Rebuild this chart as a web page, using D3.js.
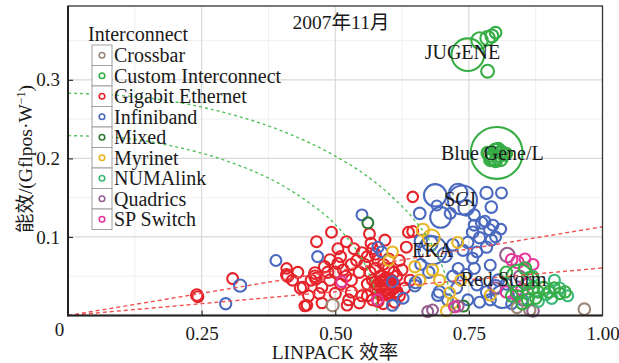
<!DOCTYPE html>
<html>
<head>
<meta charset="utf-8">
<script src="https://cdn.jsdelivr.net/npm/d3@7/dist/d3.min.js"></script>
<style>
  body { margin: 0; background: #fff; }
  text { font-family: "Liberation Serif", "Times New Roman", "Noto Sans CJK SC", serif; fill: #1a1a1a; }
</style>
</head>
<body>
<svg id="chart" width="619" height="363"></svg>
<script>
// each point: [LINPACK efficiency, Gflops per W, Rmax (TFlops)]
const crossbar = [[0.495, 0.013, 12], [0.966, 0.008, 10], [0.864, 0.007, 9], [0.84, 0.01, 8]];

const customInterconnect = [
  [0.748, 0.332, 167], [0.77, 0.35, 30], [0.785, 0.353, 20], [0.793, 0.356, 14], [0.8, 0.36, 10], [0.785, 0.311, 14],
  [0.802, 0.207, 478], [0.79, 0.205, 20], [0.795, 0.2, 22], [0.8, 0.21, 18], [0.805, 0.205, 20], [0.81, 0.208, 16],
  [0.815, 0.205, 14], [0.79, 0.198, 12], [0.8, 0.197, 14], [0.82, 0.206, 10], [0.785, 0.207, 12], [0.805, 0.212, 12],
  [0.798, 0.202, 30], [0.808, 0.2, 25],
  [0.845, 0.048, 102], [0.87, 0.035, 12], [0.88, 0.03, 10], [0.89, 0.035, 12], [0.9, 0.03, 10], [0.91, 0.035, 9],
  [0.92, 0.028, 9], [0.93, 0.03, 9], [0.86, 0.02, 10], [0.875, 0.022, 9], [0.865, 0.045, 30], [0.84, 0.03, 12],
  [0.83, 0.025, 10], [0.85, 0.015, 10], [0.82, 0.055, 10], [0.855, 0.06, 12]
];

const gigabitEthernet = [
  [0.241, 0.026, 10], [0.243, 0.024, 8], [0.308, 0.047, 8], [0.409, 0.06, 7], [0.409, 0.052, 9], [0.411, 0.05, 9],
  [0.435, 0.035, 9], [0.443, 0.012, 7], [0.465, 0.094, 8], [0.493, 0.106, 8], [0.521, 0.094, 8],
  [0.462, 0.054, 10], [0.462, 0.05, 10], [0.464, 0.047, 10], [0.44, 0.036, 8], [0.475, 0.036, 8],
  [0.447, 0.013, 7], [0.475, 0.016, 7], [0.522, 0.013, 7], [0.545, 0.016, 8], [0.49, 0.071, 8], [0.48, 0.062, 9],
  [0.486, 0.055, 9], [0.505, 0.066, 9], [0.52, 0.05, 8], [0.53, 0.045, 9], [0.51, 0.04, 8], [0.53, 0.03, 9],
  [0.55, 0.025, 8], [0.56, 0.04, 8], [0.545, 0.055, 9], [0.555, 0.065, 8], [0.565, 0.055, 9], [0.57, 0.045, 9],
  [0.575, 0.06, 9], [0.58, 0.07, 8], [0.59, 0.065, 8], [0.6, 0.06, 9], [0.61, 0.055, 8], [0.585, 0.05, 9],
  [0.595, 0.048, 9], [0.605, 0.045, 9], [0.615, 0.05, 8], [0.625, 0.058, 8], [0.62, 0.07, 8], [0.6, 0.072, 8],
  [0.58, 0.04, 10], [0.585, 0.035, 10], [0.59, 0.038, 10], [0.595, 0.033, 10], [0.6, 0.036, 10], [0.605, 0.04, 10],
  [0.575, 0.035, 10], [0.59, 0.03, 10], [0.6, 0.03, 10], [0.61, 0.035, 10], [0.585, 0.043, 10], [0.595, 0.043, 10],
  [0.58, 0.03, 10], [0.575, 0.042, 10], [0.6, 0.042, 10], [0.605, 0.033, 10], [0.61, 0.04, 10], [0.615, 0.03, 10],
  [0.595, 0.028, 10], [0.585, 0.027, 10], [0.59, 0.045, 10], [0.6, 0.026, 10],
  [0.564, 0.104, 8], [0.593, 0.096, 8], [0.567, 0.092, 8], [0.57, 0.085, 8], [0.645, 0.151, 7],
  [0.637, 0.106, 8], [0.645, 0.107, 8], [0.633, 0.087, 8], [0.56, 0.025, 8], [0.57, 0.02, 8], [0.58, 0.018, 9],
  [0.59, 0.015, 8], [0.611, 0.017, 8], [0.525, 0.02, 8], [0.5, 0.028, 9], [0.455, 0.045, 8], [0.62, 0.025, 8],
  [0.63, 0.035, 8], [0.64, 0.045, 8], [0.55, 0.08, 8], [0.535, 0.085, 8], [0.51, 0.075, 8],
  [0.42, 0.045, 8], [0.43, 0.055, 8], [0.45, 0.025, 8], [0.47, 0.028, 8], [0.49, 0.045, 9], [0.5, 0.055, 9],
  [0.515, 0.058, 8], [0.53, 0.065, 8], [0.54, 0.07, 8], [0.56, 0.075, 8], [0.575, 0.078, 8], [0.505, 0.085, 8]
];

const infiniband = [
  [0.295, 0.015, 9], [0.322, 0.038, 12], [0.389, 0.07, 8], [0.467, 0.075, 8], [0.55, 0.128, 8],
  [0.58, 0.087, 8], [0.587, 0.081, 8], [0.607, 0.043, 8],
  [0.738, 0.147, 127], [0.687, 0.153, 67], [0.697, 0.125, 55], [0.73, 0.156, 40], [0.745, 0.137, 25],
  [0.658, 0.13, 10], [0.783, 0.156, 12], [0.811, 0.156, 8], [0.792, 0.138, 10], [0.69, 0.14, 6], [0.715, 0.13, 8],
  [0.76, 0.128, 9],
  [0.774, 0.118, 10], [0.789, 0.109, 9], [0.757, 0.106, 10], [0.77, 0.099, 9], [0.792, 0.096, 9], [0.748, 0.093, 9],
  [0.739, 0.083, 9], [0.765, 0.081, 8], [0.757, 0.073, 8], [0.783, 0.087, 9], [0.8, 0.1, 8], [0.795, 0.115, 8],
  [0.78, 0.12, 8], [0.76, 0.115, 8], [0.81, 0.11, 7],
  [0.682, 0.083, 118], [0.677, 0.092, 25], [0.66, 0.095, 12], [0.705, 0.077, 20], [0.72, 0.09, 10],
  [0.649, 0.038, 10], [0.65, 0.042, 10], [0.692, 0.026, 10], [0.695, 0.03, 10], [0.627, 0.022, 8], [0.607, 0.013, 8],
  [0.745, 0.052, 9], [0.765, 0.039, 9], [0.783, 0.03, 9], [0.77, 0.017, 8], [0.727, 0.035, 8], [0.748, 0.02, 8],
  [0.79, 0.064, 8], [0.76, 0.06, 9], [0.813, 0.024, 70], [0.8, 0.036, 20], [0.79, 0.02, 9], [0.82, 0.04, 9],
  [0.71, 0.02, 8], [0.73, 0.06, 8], [0.72, 0.05, 9], [0.675, 0.055, 9], [0.66, 0.065, 8], [0.805, 0.045, 10],
  [0.84, 0.03, 10], [0.85, 0.02, 9], [0.83, 0.015, 8]
];

const mixed = [[0.561, 0.118, 8], [0.74, 0.012, 8]];

const myrinet = [
  [0.68, 0.099, 30], [0.664, 0.109, 12], [0.729, 0.093, 8], [0.682, 0.058, 9], [0.708, 0.006, 8], [0.72, 0.016, 8],
  [0.714, 0.029, 8], [0.607, 0.081, 8], [0.79, 0.026, 8], [0.649, 0.062, 9], [0.658, 0.045, 9], [0.6, 0.07, 7],
  [0.735, 0.045, 8], [0.695, 0.045, 8]
];

const numalink = [
  [0.895, 0.027, 9], [0.905, 0.022, 9], [0.92, 0.035, 8], [0.88, 0.018, 8], [0.86, 0.03, 9], [0.935, 0.025, 8],
  [0.87, 0.05, 8], [0.91, 0.045, 8]
];

const quadrics = [[0.822, 0.077, 20], [0.673, 0.005, 8], [0.87, 0.006, 10], [0.73, 0.012, 8], [0.845, 0.05, 9], [0.8, 0.035, 8], [0.682, 0.007, 8]];

const spSwitch = [
  [0.841, 0.068, 12], [0.83, 0.071, 10], [0.855, 0.072, 8], [0.85, 0.033, 12], [0.84, 0.025, 10], [0.512, 0.043, 8],
  [0.579, 0.02, 8], [0.723, 0.011, 8], [0.82, 0.03, 9], [0.86, 0.04, 9], [0.87, 0.065, 8]
];

const interconnects = ["Crossbar", "Custom Interconnect", "Gigabit Ethernet", "Infiniband", "Mixed", "Myrinet", "NUMAlink", "Quadrics", "SP Switch"];
const colors = ["#9c8676", "#36ad45", "#e5232a", "#4a69bf", "#2f7a35", "#e8b525", "#3cb878", "#95608f", "#e5379a"];

// system labels: [name, efficiency, Gflops/W]
const systemLabels = [["JUGENE", 0.738, 0.335], ["Blue Gene/L", 0.794, 0.207], ["SGI", 0.734, 0.148], ["EKA", 0.682, 0.083], ["Red Storm", 0.815, 0.047]];

// reference lines
const redLines = [[[0, 0], [1, 0.113]], [[0, 0], [1, 0.0605]]];
const greenCurveHigh = [[0, 0.283], [0.1, 0.28], [0.2, 0.272], [0.3, 0.257], [0.4, 0.235], [0.5, 0.203], [0.55, 0.182], [0.6, 0.155], [0.65, 0.12], [0.68, 0.091], [0.7, 0.063], [0.71, 0.042], [0.716, 0.021], [0.718, 0]];
const greenCurveLow = [[0, 0.229], [0.1, 0.226], [0.2, 0.215], [0.3, 0.196], [0.4, 0.166], [0.45, 0.144], [0.5, 0.116], [0.53, 0.092], [0.55, 0.072], [0.565, 0.05], [0.575, 0.027], [0.579, 0]];

const xTicks = [0, 0.25, 0.5, 0.75, 1.0];
const yTicks = [0.1, 0.2, 0.3];
const title = "2007年11月";

const svg = d3.select("#chart");
const pLeft = 68, pRight = 602.5, pTop = 6, pBottom = 315.5;

const x = d3.scaleLinear().domain([0, 1]).range([pLeft, pRight]);
const y = d3.scaleLinear().domain([0, 0.394]).range([pBottom, pTop]);
const r = d3.scaleSqrt().domain([5, 480]).range([4.8, 26]);

// grid
const grid = svg.append("g");
grid.selectAll(".xminor").data([0.125, 0.375, 0.625, 0.875]).enter().append("line")
  .attr("x1", d => x(d)).attr("x2", d => x(d)).attr("y1", pTop).attr("y2", pBottom)
  .attr("stroke", "#f0f0f0").attr("stroke-width", 1);
grid.selectAll(".yminor").data([0.05, 0.15, 0.25, 0.35]).enter().append("line")
  .attr("y1", d => y(d)).attr("y2", d => y(d)).attr("x1", pLeft).attr("x2", pRight)
  .attr("stroke", "#f0f0f0").attr("stroke-width", 1);
grid.selectAll(".xmajor").data([0.25, 0.5, 0.75]).enter().append("line")
  .attr("x1", d => x(d)).attr("x2", d => x(d)).attr("y1", pTop).attr("y2", pBottom)
  .attr("stroke", "#d9d9d9").attr("stroke-width", 1.2);
grid.selectAll(".ymajor").data(yTicks).enter().append("line")
  .attr("y1", d => y(d)).attr("y2", d => y(d)).attr("x1", pLeft).attr("x2", pRight)
  .attr("stroke", "#d9d9d9").attr("stroke-width", 1.2);

// points
const order = [2, 3, 5, 4, 0, 7, 8, 6, 1];
const seriesData = [crossbar, customInterconnect, gigabitEthernet, infiniband, mixed, myrinet, numalink, quadrics, spSwitch];
const pts = svg.append("g");
order.forEach(i => {
  pts.selectAll(null).data(seriesData[i]).enter().append("circle")
    .attr("cx", d => x(d[0])).attr("cy", d => y(d[1])).attr("r", d => r(d[2]))
    .attr("fill", "none").attr("stroke", colors[i]).attr("stroke-width", 2.1);
});

// reference lines
const line = d3.line().x(d => x(d[0])).y(d => y(d[1]));
svg.append("g").selectAll("path").data(redLines).enter().append("path")
  .attr("d", line).attr("fill", "none").attr("stroke", "#f05050").attr("stroke-width", 1.4).attr("stroke-dasharray", "4,3");
const curve = d3.line().x(d => x(d[0])).y(d => y(d[1])).curve(d3.curveMonotoneX);
svg.append("g").selectAll("path").data([greenCurveHigh, greenCurveLow]).enter().append("path")
  .attr("d", curve).attr("fill", "none").attr("stroke", "#55c25a").attr("stroke-width", 1.4).attr("stroke-dasharray", "3,3");

// system labels
svg.append("g").selectAll("text").data(systemLabels).enter().append("text")
  .attr("x", d => x(d[1])).attr("y", d => y(d[2]) + 7)
  .attr("text-anchor", "middle").attr("font-size", 20).text(d => d[0]);

// axes
const xAxis = svg.append("g").attr("transform", `translate(0,${pBottom})`)
  .call(d3.axisBottom(x).tickValues(xTicks).tickSize(-5).tickPadding(11).tickFormat(d => d === 0 ? "0" : d3.format(".2f")(d)));
xAxis.select(".domain").remove();
xAxis.selectAll("text").attr("font-size", 19).attr("fill", "#1a1a1a");
xAxis.selectAll(".tick").filter(d => d === 0).select("text").attr("dx", -9).attr("dy", "0.5em");
xAxis.selectAll(".tick").filter(d => d === 0 || d === 1).select("line").remove();

const yAxis = svg.append("g").attr("transform", `translate(${pLeft},0)`)
  .call(d3.axisLeft(y).tickValues(yTicks).tickSize(-5).tickPadding(8).tickFormat(d3.format(".1f")));
yAxis.select(".domain").remove();
yAxis.selectAll("text").attr("font-size", 19).attr("fill", "#1a1a1a");
svg.selectAll(".tick line").attr("stroke", "#333").attr("stroke-width", 1.2);

// frame
svg.append("rect").attr("x", pLeft).attr("y", pTop).attr("width", pRight - pLeft).attr("height", pBottom - pTop)
  .attr("fill", "none").attr("stroke", "#333").attr("stroke-width", 1.3);
svg.append("path").attr("d", `M${pLeft},${pTop}V${pBottom}H${pRight}`).attr("fill", "none").attr("stroke", "#222").attr("stroke-width", 2);

// title
svg.append("text").attr("x", 341).attr("y", 29).attr("text-anchor", "middle").attr("font-size", 19.5).text(title);

// axis titles
svg.append("text").attr("x", 335).attr("y", 359).attr("text-anchor", "middle").attr("font-size", 19.5).text("LINPACK 效率");
const yl = svg.append("text").attr("transform", "translate(32,159) rotate(-90)").attr("text-anchor", "middle").attr("font-size", 19.5);
yl.append("tspan").text("能效/(Gflpos·W");
yl.append("tspan").attr("dy", -7).attr("font-size", 12).text("−1");
yl.append("tspan").attr("dy", 7).text(")");

// legend
const lg = svg.append("g");
lg.append("text").attr("x", 88).attr("y", 41).attr("font-size", 20).text("Interconnect");
const rowH = 20.5, row0 = 45;
const items = lg.selectAll(".item").data(interconnects).enter().append("g")
  .attr("transform", (d, i) => `translate(92,${row0 + i * rowH})`);
items.append("rect").attr("width", 20).attr("height", rowH).attr("fill", "#fff").attr("stroke", "#a0a0a0").attr("stroke-width", 1);
items.append("circle").attr("cx", 10).attr("cy", rowH / 2).attr("r", 2.8)
  .attr("fill", "none").attr("stroke", (d, i) => colors[i]).attr("stroke-width", 1.6);
items.append("text").attr("x", 22).attr("y", rowH / 2 + 7).attr("font-size", 20).text(d => d);
</script>
</body>
</html>
